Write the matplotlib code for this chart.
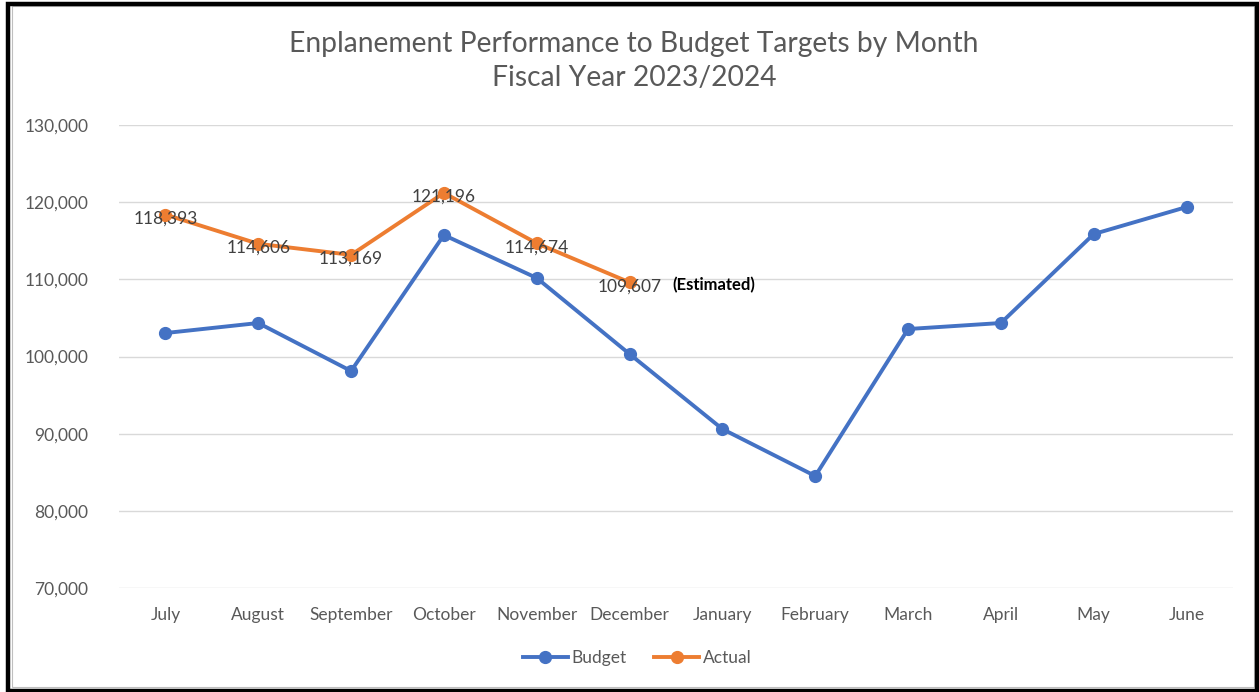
import matplotlib
matplotlib.use("Agg")
import matplotlib.pyplot as plt
from matplotlib.patches import Rectangle

months = ["July", "August", "September", "October", "November", "December",
          "January", "February", "March", "April", "May", "June"]
budget = [103040, 104340, 98120, 115740, 110170, 100320,
          90600, 84510, 103560, 104340, 115870, 119370]
actual = [118393, 114606, 113169, 121196, 114674, 109607]
yticks = [70000, 80000, 90000, 100000, 110000, 120000, 130000]

BLUE = "#4472C4"
ORANGE = "#ED7D31"
TXT = "#595959"

plt.rcParams['font.family'] = ['Lato', 'DejaVu Sans']

W, H = 1259, 692
fig = plt.figure(figsize=(W / 100, H / 100), dpi=100)
ax = fig.add_axes([119 / W, 1 - 588 / H, (1233 - 119) / W, (588 - 125) / H])

x = list(range(len(months)))
ax.plot(x, budget, color=BLUE, lw=2.8, marker='o', ms=8.5, label="Budget", zorder=3)
ax.plot(x[:len(actual)], actual, color=ORANGE, lw=2.8, marker='o', ms=8.5, label="Actual", zorder=3)

for i, v in enumerate(actual):
    ax.annotate(f"{v:,}", (i, v), xytext=(0, -3), textcoords="offset points",
                ha="center", va="center", fontsize=12.5, color="#404040", zorder=4)
ax.annotate("(Estimated)", (len(actual) - 1, actual[-1]), xytext=(31, -2),
            textcoords="offset points", ha="left", va="center", fontsize=12,
            fontweight="bold", color="black")

ax.set_xlim(-0.5, len(months) - 0.5)
ax.set_ylim(70000, 130000)
ax.set_yticks(yticks)
ax.set_yticklabels([f"{t:,}" for t in yticks])
ax.set_xticks(x)
ax.set_xticklabels(months)
ax.tick_params(axis='both', length=0, labelsize=12.5, colors=TXT)
ax.tick_params(axis='x', pad=14)
ax.tick_params(axis='y', pad=22)
ax.grid(axis='y', color="#D9D9D9", lw=1)
ax.set_axisbelow(True)
for s in ax.spines.values():
    s.set_visible(False)

fig.text(634 / W, 1 - 44 / H, "Enplanement Performance to Budget Targets by Month",
         ha="center", va="center", fontsize=20.3, color=TXT)
fig.text(634 / W, 1 - 78 / H, "Fiscal Year 2023/2024",
         ha="center", va="center", fontsize=20.3, color=TXT)

leg = fig.legend(loc="center", bbox_to_anchor=(637 / W, 1 - 658 / H), ncol=2,
                 frameon=False, fontsize=12.5, handlelength=2.6, columnspacing=1.6,
                 handletextpad=0.2)
for t in leg.get_texts():
    t.set_color(TXT)

# outer frame
fig.patches.append(Rectangle((12 / W, 5 / H), (1254 - 12) / W, (686 - 5) / H,
                             transform=fig.transFigure, fill=False,
                             ec="#BFBFBF", lw=0.8))
fig.patches.append(Rectangle((7.5 / W, 1.5 / H), (1257 - 7.5) / W, (688 - 1.5) / H,
                             transform=fig.transFigure, fill=False,
                             ec="black", lw=3.2))

fig.savefig("out.png", dpi=100)
